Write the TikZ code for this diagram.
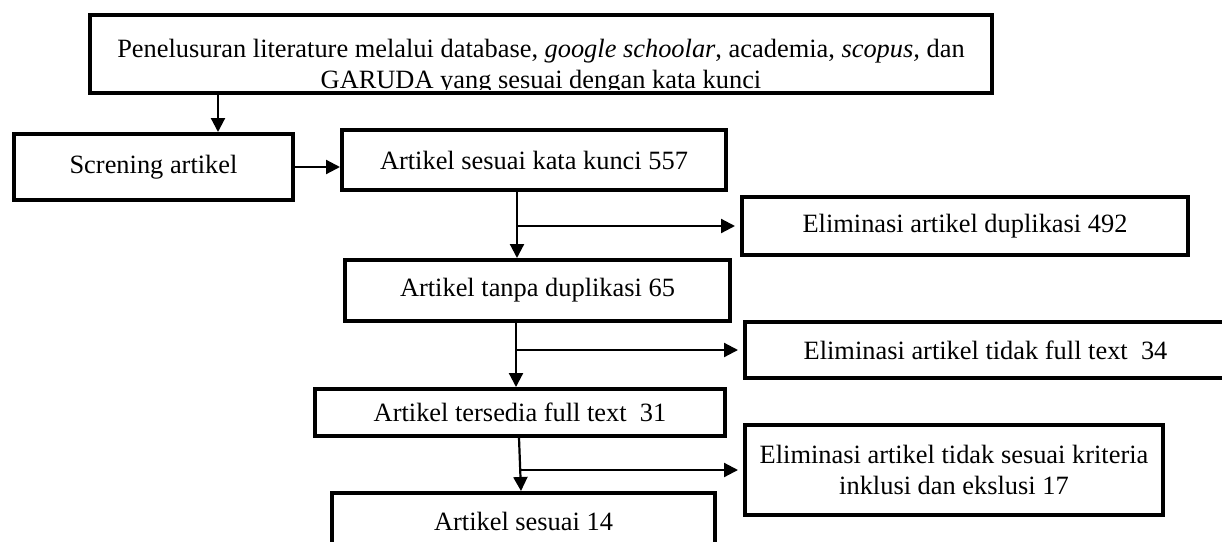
\documentclass[tikz,border=0pt]{standalone}
\usepackage{fontspec}
\setmainfont{Liberation Serif}
\usetikzlibrary{arrows.meta}
\begin{document}
\begin{tikzpicture}[x=1pt,y=-1pt,
  font=\fontsize{26.4}{31}\selectfont,
  box/.style={draw, line width=4pt, inner sep=0pt, align=center},
  arr/.style={line width=2.2pt, -{Triangle[length=14pt,width=14pt]}},
  txt/.style={inner sep=0pt, anchor=base}]
\useasboundingbox (0,0) rectangle (1222,541);
\clip (0,0) rectangle (1222,541);
% top box
\node[box, minimum width=902pt, minimum height=78pt] (top) at (541,54) {};
\begin{scope}
  \clip (92,17) rectangle (990,89.5);
  \node[txt] (topl1) at (541,57) {Penelusuran literature melalui database, \textit{google schoolar}, academia, \textit{scopus,} dan};
  \node[txt] (topl2) at (541,88) {GARUDA yang sesuai dengan kata kunci};
\end{scope}
% boxes
\node[box, minimum width=279pt, minimum height=66pt] (scr) at (153.5,167) {Screning artikel};
\node[box, minimum width=384pt, minimum height=60pt] (a557) at (534,160) {Artikel sesuai kata kunci 557};
\node[box, minimum width=446pt, minimum height=58pt] (e492) at (965,226) {Eliminasi artikel duplikasi 492};
\node[box, minimum width=385pt, minimum height=61pt] (a65) at (537.5,290.5) {Artikel tanpa duplikasi 65};
\node[box, minimum width=481pt, minimum height=56pt] (e34) at (985.5,350) {Eliminasi artikel tidak full text\ \ 34};
\node[box, minimum width=410pt, minimum height=47pt] (a31) at (520,412.5) {Artikel tersedia full text\ \ 31};
\node[box, minimum width=418pt, minimum height=90pt] (e17) at (954,470) {Eliminasi artikel tidak sesuai kriteria\\inklusi dan ekslusi 17};
\node[box, minimum width=383pt, minimum height=56pt] (a14) at (523.5,521) {Artikel sesuai 14};
% helper x positions
\coordinate (x0) at (218,0);
\coordinate (x1) at (517,0);
\coordinate (x2) at (516,0);
\coordinate (x3) at (519,0);
\coordinate (x4) at (521,0);
% connectors
\draw[arr] (top.south -| x0) -- (scr.north -| x0);
\draw[arr] (scr.east) -- (scr.east -| a557.west);
\draw[arr] (a557.south -| x1) -- (a65.north -| x1);
\draw[arr] (x1 |- e492.west) -- ([xshift=-5pt]e492.west);
\draw[arr] (a65.south -| x2) -- (a31.north -| x2);
\draw[arr] (x2 |- e34.west) -- ([xshift=-5pt]e34.west);
\draw[arr] (a31.south -| x3) -- (a14.north -| x4);
\draw[arr] (x4 |- e17.west) -- ([xshift=-5pt]e17.west);
\end{tikzpicture}
\end{document}
